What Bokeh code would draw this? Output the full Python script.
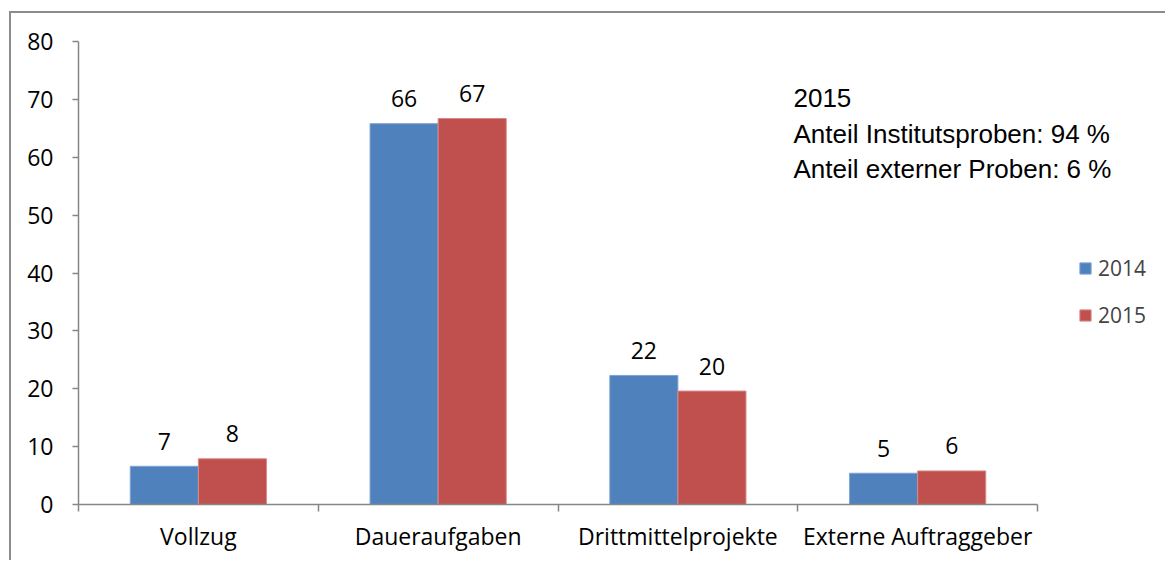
from bokeh.plotting import figure
from bokeh.models import (Range1d, FixedTicker, LinearAxis, Legend, LegendItem,
                          Label, ColumnDataSource)
from bokeh.core.properties import value
from bokeh.embed import file_html
from bokeh.resources import INLINE

categories = ["Vollzug", "Daueraufgaben", "Drittmittelprojekte", "Externe Auftraggeber"]
years = ["2014", "2015"]
values_2014 = [6.6, 65.8, 22.3, 5.4]
values_2015 = [7.9, 66.7, 19.6, 5.8]
labels_2014 = ["7", "66", "22", "5"]
labels_2015 = ["8", "67", "20", "6"]
y_ticks = [0, 10, 20, 30, 40, 50, 60, 70, 80]
note_lines = ["2015", "Anteil Institutsproben: 94 %", "Anteil externer Proben: 6 %"]

BLUE = "#4F81BD"
RED = "#C0504D"
AXIS = "#868686"
CAT_FONT = "Open Sans"
BAR_W = 0.284

centers = [i + 0.5 for i in range(len(categories))]

# canvas offset by CSS margin + border; frame at window x=78..., y=41..504
p = figure(width=1156, height=549, x_range=Range1d(0, 4.542), y_range=Range1d(0, 80),
           min_border_left=67, min_border_right=0, min_border_top=28, min_border_bottom=58,
           toolbar_location=None, output_backend="svg",
           x_axis_location=None, y_axis_location=None,
           styles={"margin-left": "9px", "margin-top": "11px",
                   "border-left": "2px solid #8c8c8c", "border-top": "2px solid #8c8c8c"})
p.outline_line_color = None
p.grid.visible = False
p.background_fill_color = "white"
p.border_fill_color = "white"

src14 = ColumnDataSource(dict(x=[c - BAR_W / 2 for c in centers], top=values_2014, lab=labels_2014))
src15 = ColumnDataSource(dict(x=[c + BAR_W / 2 for c in centers], top=values_2015, lab=labels_2015))

r14 = p.vbar(x="x", top="top", bottom=0, width=BAR_W, source=src14,
             fill_color=BLUE, line_color="#7ea3d3", line_width=1)
r15 = p.vbar(x="x", top="top", bottom=0, width=BAR_W, source=src15,
             fill_color=RED, line_color="#d98a88", line_width=1)

for src in (src14, src15):
    p.text(x="x", y="top", text="lab", source=src, text_align="center",
           text_baseline="alphabetic", y_offset=-25, text_font=value(CAT_FONT),
           text_font_size="23px", text_color="black")

# y axis
yax = LinearAxis(ticker=FixedTicker(ticks=y_ticks))
yax.axis_line_color = AXIS
yax.axis_line_width = 1.5
yax.major_tick_line_color = AXIS
yax.major_tick_line_width = 1.5
yax.major_tick_out = 6
yax.major_tick_in = 0
yax.minor_tick_out = 0
yax.minor_tick_in = 0
yax.major_label_standoff = 19
yax.major_label_text_font = CAT_FONT
yax.major_label_text_font_size = "23px"
yax.major_label_text_color = "black"
p.add_layout(yax, "left")

# x axis (category labels at centers, ticks at boundaries)
xax = LinearAxis(ticker=FixedTicker(ticks=centers, minor_ticks=list(range(len(categories) + 1))),
                 bounds=(0, len(categories)))
xax.major_label_overrides = {c: name for c, name in zip(centers, categories)}
xax.axis_line_color = AXIS
xax.axis_line_width = 1.5
xax.major_tick_out = 0
xax.major_tick_in = 0
xax.minor_tick_line_color = AXIS
xax.minor_tick_line_width = 1.5
xax.minor_tick_out = 7
xax.minor_tick_in = 0
xax.major_label_standoff = 8
xax.major_label_text_font = CAT_FONT
xax.major_label_text_font_size = "23px"
xax.major_label_text_color = "black"
p.add_layout(xax, "below")

legend = Legend(items=[LegendItem(label=years[0], renderers=[r14]),
                       LegendItem(label=years[1], renderers=[r15])],
                location=(1000, 175), padding=0, margin=0, spacing=19,
                glyph_width=14, glyph_height=14, label_standoff=6,
                border_line_alpha=0, background_fill_alpha=0,
                label_text_font=CAT_FONT, label_text_font_size="21px")
p.add_layout(legend)

for line, yy in zip(note_lines, [70.3, 64.1, 57.9]):
    p.add_layout(Label(x=2.982, y=yy, text=line, text_baseline="middle", text_align="left",
                       text_font="Liberation Sans", text_font_size="26px", text_color="black"))

open("out.html", "w").write(file_html(p, INLINE))
